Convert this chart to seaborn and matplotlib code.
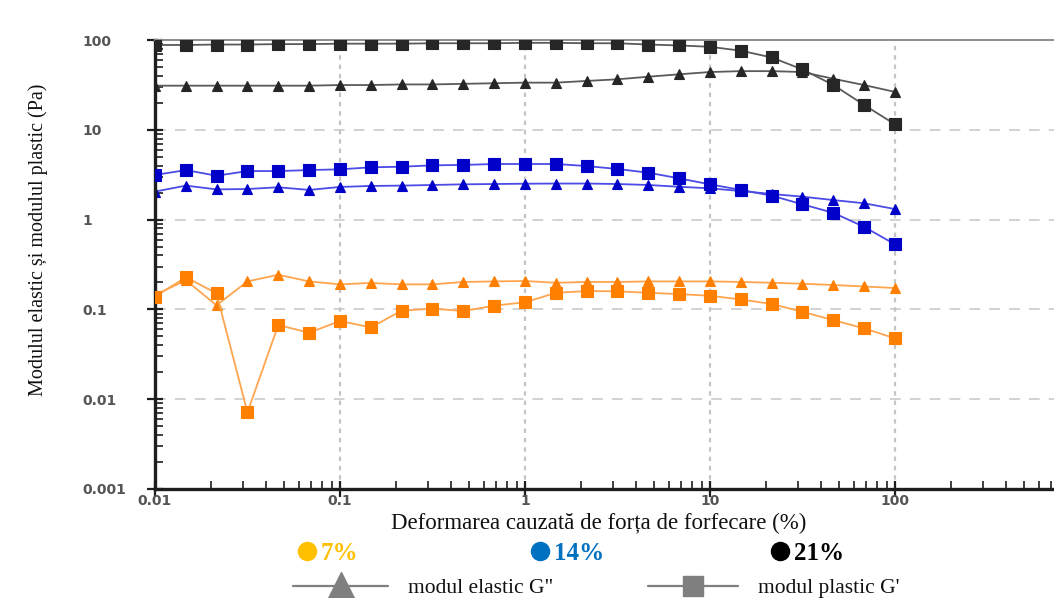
import numpy as np
import pandas as pd
import matplotlib
matplotlib.use("Agg")
import matplotlib.pyplot as plt
from matplotlib.lines import Line2D
from matplotlib.ticker import FixedLocator, FixedFormatter, LogLocator, NullFormatter
import seaborn as sns

# Shear strain (%)
strain = [0.01, 0.0147, 0.0215, 0.0316, 0.0464, 0.0681, 0.1, 0.147, 0.215, 0.316,
          0.464, 0.681, 1.0, 1.47, 2.15, 3.16, 4.64, 6.81, 10.0, 14.7, 21.5, 31.6,
          46.4, 68.1, 100.0]

# Elastic (G'') and plastic (G') moduli, Pa
g2_7 = [0.145, 0.211, 0.111, 0.205, 0.243, 0.205, 0.19, 0.197, 0.19, 0.19, 0.202, 0.205,
        0.207, 0.198, 0.202, 0.202, 0.205, 0.205, 0.205, 0.202, 0.198, 0.193, 0.187, 0.180, 0.173]
g1_7 = [0.139, 0.228, 0.151, 0.00714, 0.067, 0.055, 0.0743, 0.063, 0.0968, 0.102, 0.096, 0.110,
        0.120, 0.153, 0.160, 0.159, 0.153, 0.148, 0.142, 0.129, 0.115, 0.094, 0.076, 0.0615, 0.0476]
g2_14 = [2.05, 2.39, 2.17, 2.19, 2.29, 2.14, 2.31, 2.37, 2.39, 2.43, 2.47, 2.49, 2.51,
         2.52, 2.52, 2.49, 2.43, 2.32, 2.23, 2.08, 1.93, 1.80, 1.65, 1.52, 1.31]
g1_14 = [3.14, 3.56, 3.08, 3.47, 3.47, 3.56, 3.63, 3.82, 3.88, 4.02, 4.06, 4.16, 4.16,
         4.16, 3.95, 3.66, 3.33, 2.88, 2.47, 2.14, 1.85, 1.48, 1.19, 0.83, 0.53]
g2_21 = [31, 31, 31, 31, 31, 31, 31.5, 31.5, 32, 32, 32.5, 33, 33.5,
         33.5, 35, 36.5, 39, 41.5, 44, 45, 45, 44, 37, 31.5, 26.4]
g1_21 = [88, 88, 89, 89, 90, 90, 91, 91, 91, 92, 92, 92, 93,
         93, 92, 92, 89, 87, 84, 76, 64, 47, 31.6, 18.9, 11.5]

# the last decade runs past the right edge, so its label stays blank
x_tick_values = [0.01, 0.1, 1, 10, 100, 1000]
x_tick_labels = ["0.01", "0.1", "1", "10", "100", ""]
y_tick_values = [0.001, 0.01, 0.1, 1, 10, 100]
y_tick_labels = ["0.001", "0.01", "0.1", "1", "10", "100"]

concentrations = ["7%", "14%", "21%"]
legend_colors = ["#FFC000", "#0070C0", "#000000"]
moduli = ['modul elastic G"', "modul plastic G'"]

series = {
    ("7%", "G''"): g2_7, ("7%", "G'"): g1_7,
    ("14%", "G''"): g2_14, ("14%", "G'"): g1_14,
    ("21%", "G''"): g2_21, ("21%", "G'"): g1_21,
}
rows = []
for (conc, mod), vals in series.items():
    for s, v in zip(strain, vals):
        rows.append({"strain": s, "value": v, "conc": conc, "mod": mod})
df = pd.DataFrame(rows)

# marker colour, line colour
palette = {"7%": ("#FF8000", "#FFA54F"),
           "14%": ("#0000C8", "#4B4BE6"),
           "21%": ("#262626", "#5A5A5A")}
marker_style = {"G''": ("^", 7.5), "G'": ("s", 8.8)}

sns.set_theme(style="white")
W, H = 1054, 598
fig = plt.figure(figsize=(W / 100, H / 100), dpi=100)
ax_left, ax_top, ax_bottom = 155, 40, 489
ax_w = 925  # five decades, the last one running past the canvas edge
ax = fig.add_axes([ax_left / W, 1 - ax_bottom / H, ax_w / W, (ax_bottom - ax_top) / H])

for conc in concentrations:
    for mod in ["G''", "G'"]:
        sub = df[(df["conc"] == conc) & (df["mod"] == mod)]
        mcol, lcol = palette[conc]
        m, ms = marker_style[mod]
        sns.lineplot(data=sub, x="strain", y="value", ax=ax, sort=False, estimator=None,
                     color=lcol, linewidth=1.3, marker=m, markersize=ms,
                     markerfacecolor=mcol, markeredgecolor=mcol, markeredgewidth=0.8,
                     legend=False, zorder=3 if mod == "G'" else 2)

ax.set_xscale("log")
ax.set_yscale("log")
ax.set_xlim(0.01, 1000)
ax.set_ylim(0.001, 100)

ax.xaxis.set_major_locator(FixedLocator(x_tick_values))
ax.xaxis.set_major_formatter(FixedFormatter(x_tick_labels))
ax.yaxis.set_major_locator(FixedLocator(y_tick_values))
ax.yaxis.set_major_formatter(FixedFormatter(y_tick_labels))
ax.xaxis.set_minor_locator(LogLocator(base=10, subs=np.arange(2, 10), numticks=20))
ax.yaxis.set_minor_locator(LogLocator(base=10, subs=np.arange(2, 10), numticks=20))
ax.xaxis.set_minor_formatter(NullFormatter())
ax.yaxis.set_minor_formatter(NullFormatter())

# grid: dashed horizontal, dotted vertical
ax.grid(False)
for yv in y_tick_values[1:-1]:
    ax.axhline(yv, color="#CFCFCF", lw=1.3, ls=(0, (6, 5)), zorder=0)
for xv in x_tick_values[1:]:
    ax.axvline(xv, color="#C4C4C4", lw=1.6, ls=(0, (2, 2.2)), zorder=0)

for side in ["left", "bottom"]:
    ax.spines[side].set_color("#1E1E1E")
    ax.spines[side].set_linewidth(2.4)
ax.spines["top"].set_color("#8C8C8C")
ax.spines["top"].set_linewidth(1.4)
ax.spines["right"].set_visible(False)

ax.tick_params(axis="both", which="major", direction="inout", length=11, width=1.6,
               color="#1E1E1E", left=True, bottom=True)
ax.tick_params(axis="both", which="minor", direction="in", length=6, width=1.2,
               color="#1E1E1E", left=True, bottom=True)
ax.tick_params(axis="y", which="major", pad=47)
ax.tick_params(axis="x", which="major", pad=-2)

tick_font = dict(family="DejaVu Sans", weight="bold", size=10, color="#555555")
for lab in ax.get_yticklabels():
    lab.set(**tick_font)
    lab.set_horizontalalignment("left")
for lab in ax.get_xticklabels():
    lab.set(**tick_font)

serif = ["Liberation Serif", "DejaVu Serif"]
ax.set_ylabel("Modulul elastic și modulul plastic (Pa)", family=serif, size=14.5, color="#111111")
ax.yaxis.set_label_coords((48 - ax_left) / ax_w, (ax_bottom - 240) / (ax_bottom - ax_top))
ax.set_xlabel("Deformarea cauzată de forța de forfecare (%)", family=serif, size=16.5, color="#111111")
ax.xaxis.set_label_coords((599 - ax_left) / ax_w, (ax_bottom - 513) / (ax_bottom - ax_top))


def fx(px):
    return px / W


def fy(py):
    return 1 - py / H


# concentration key
for conc, col, cx in zip(concentrations, legend_colors, [307, 540, 780]):
    fig.add_artist(Line2D([fx(cx)], [fy(551)], marker="o", markersize=13, color=col,
                          markeredgecolor=col, transform=fig.transFigure))
    fig.text(fx(cx + 14), fy(551), conc, family=serif, weight="bold", size=18,
             color=col, ha="left", va="center_baseline")

# modulus key
gray = "#7F7F7F"
for label, m, ms, x0, x1, tx in zip(moduli, ["^", "s"], [20, 15], [293, 648], [388, 738], [408, 758]):
    fig.add_artist(Line2D([fx(x0), fx(x1)], [fy(586), fy(586)], color=gray, lw=1.6,
                          transform=fig.transFigure))
    fig.add_artist(Line2D([fx((x0 + x1) / 2)], [fy(586)], marker=m, markersize=ms, color=gray,
                          transform=fig.transFigure))
    fig.text(fx(tx), fy(586), label, family=serif, size=15.5, color="#111111",
             ha="left", va="center_baseline")

fig.savefig("out.png", dpi=100)
